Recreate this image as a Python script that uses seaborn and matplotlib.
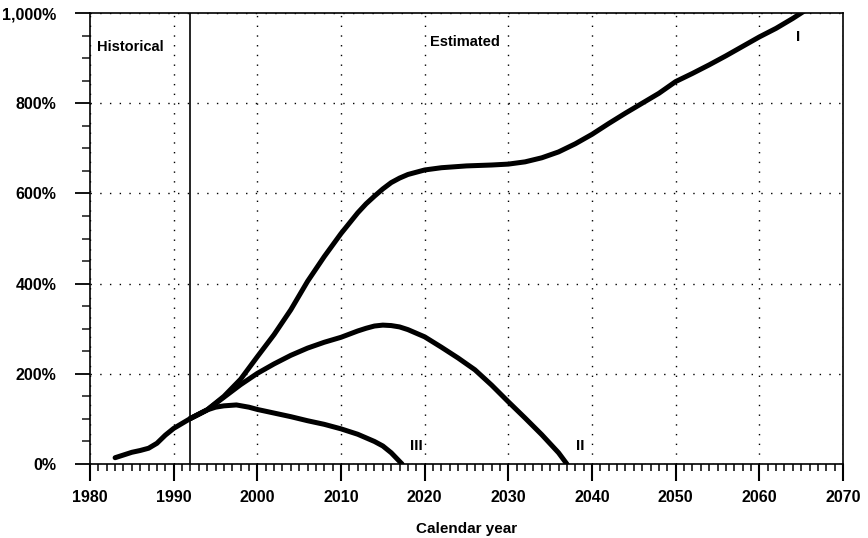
import numpy as np
import pandas as pd
import matplotlib
matplotlib.use("Agg")
import matplotlib.pyplot as plt
import seaborn as sns
from matplotlib.ticker import MultipleLocator, FuncFormatter

# values (percent)
hist_years = [1983, 1984, 1985, 1986, 1987, 1988, 1989, 1990, 1991, 1992]
hist_vals = [14, 20, 26, 30, 35, 46, 64, 79, 90, 101]

alt1_years = [1992, 1994, 1996, 1998, 2000, 2002, 2004, 2006, 2008, 2010,
              2012, 2013, 2014, 2015, 2016, 2017, 2018, 2020, 2022, 2025,
              2028, 2030, 2032, 2034, 2036, 2038, 2040, 2042, 2044, 2046,
              2048, 2050, 2052, 2054, 2056, 2058, 2060, 2062, 2064, 2066]
alt1_vals = [101, 120, 150, 188, 238, 287, 342, 405, 460, 511,
             557, 577, 594, 610, 624, 634, 642, 652, 657, 661,
             663, 665, 670, 679, 692, 710, 731, 755, 778, 800,
             822, 848, 866, 885, 905, 926, 947, 966, 988, 1012]

alt2_years = [1992, 1994, 1996, 1998, 2000, 2002, 2004, 2006, 2008, 2010,
              2012, 2013, 2014, 2015, 2016, 2017, 2018, 2019, 2020, 2022,
              2024, 2026, 2028, 2030, 2032, 2034, 2036, 2037]
alt2_vals = [101, 120, 148, 176, 201, 222, 241, 257, 270, 281,
             295, 301, 306, 308, 307, 304, 298, 290, 282, 259,
             235, 209, 175, 138, 102, 65, 25, 0]

alt3_years = [1992, 1994, 1995, 1996, 1997.5, 1999, 2000, 2002, 2004, 2006,
              2008, 2010, 2012, 2013, 2014, 2015, 2016, 2017.3]
alt3_vals = [101, 120, 126, 129, 131, 126, 121, 113, 105, 96,
             88, 78, 66, 58, 50, 40, 25, 0]

x_ticks = list(range(1980, 2071, 10))
y_ticks = list(range(0, 1001, 200))

sns.set_style("ticks")
plt.rcParams["font.family"] = ["Liberation Sans", "DejaVu Sans"]
plt.rcParams["font.weight"] = "bold"
plt.rcParams["text.color"] = "black"
plt.rcParams["axes.labelcolor"] = "black"

fig, ax = plt.subplots(figsize=(8.68, 5.38), dpi=100)
fig.subplots_adjust(left=0.1037, right=0.9712, top=0.9758, bottom=0.1375)

for xs, ys in [(hist_years, hist_vals), (alt1_years, alt1_vals),
               (alt2_years, alt2_vals), (alt3_years, alt3_vals)]:
    sns.lineplot(x=xs, y=ys, ax=ax, color="black", linewidth=3.6,
                 sort=False, estimator=None, solid_joinstyle="round")

ax.set_xlim(1980, 2070)
ax.set_ylim(0, 1000)
ax.set_xticks(x_ticks)
ax.set_yticks(y_ticks)
ax.xaxis.set_minor_locator(MultipleLocator(1))
ax.yaxis.set_minor_locator(MultipleLocator(50))
ax.yaxis.set_major_formatter(FuncFormatter(lambda v, p: f"{int(v):,}%"))

ax.grid(True, which="major", color="black", linestyle=(0, (1, 6)), linewidth=1.0)
ax.axvline(1992, color="black", linewidth=1.2)

for s in ax.spines.values():
    s.set_visible(True)
    s.set_color("black")
    s.set_linewidth(1.2)

ax.tick_params(axis="x", which="major", direction="out", length=12, width=1.5,
               pad=7, labelsize=11.5, colors="black")
ax.tick_params(axis="x", which="minor", direction="out", length=5, width=1.3)
ax.tick_params(axis="y", which="major", direction="out", length=11, width=1.3,
               pad=13, labelsize=11.5, colors="black")
ax.tick_params(axis="y", which="minor", direction="out", length=6, width=1.2)

ax.set_xlabel("Calendar year", fontsize=11, fontweight="bold", labelpad=12)
ax.set_ylabel("")

ax.text(1980.8, 925, "Historical", fontsize=10.5, fontweight="bold", va="center")
ax.text(2020.6, 936, "Estimated", fontsize=10.5, fontweight="bold", va="center")
ax.text(2064.6, 947, "I", fontsize=11, fontweight="bold", ha="center", va="center")
ax.text(2038.6, 40, "II", fontsize=11, fontweight="bold", ha="center", va="center")
ax.text(2019.0, 40, "III", fontsize=11, fontweight="bold", ha="center", va="center")

fig.savefig("out.png", dpi=100)
